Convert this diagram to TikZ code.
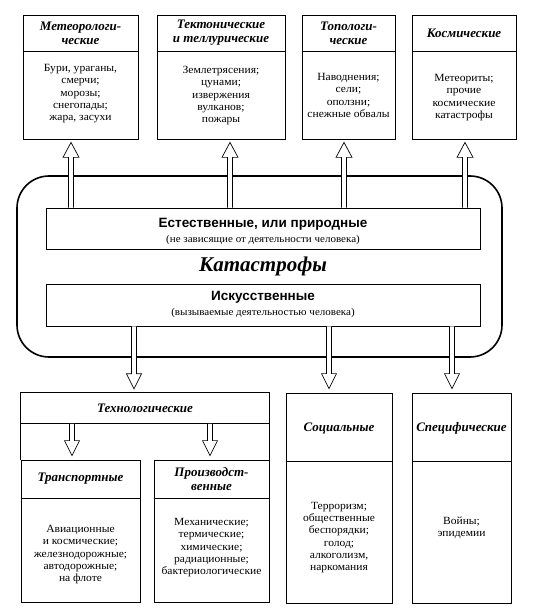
\documentclass[tikz,border=0pt]{standalone}
\usepackage{fontspec}
\setmainfont{Liberation Serif}
\setsansfont{Liberation Sans}
\newfontfamily\bodyfont[FakeStretch=1.05]{Liberation Serif}
\usetikzlibrary{calc}
\def\arrup(#1)(#2){\filldraw[fill=white, line width=0.7pt] ($(#1)+(-2.5pt,0)$) -- ($(#2)+(-2.5pt,-18pt)$) -- ($(#2)+(-8pt,-18pt)$) -- ($(#2)+(0,-3pt)$) -- ($(#2)+(8pt,-18pt)$) -- ($(#2)+(2.5pt,-18pt)$) -- ($(#1)+(2.5pt,0)$);}
\def\arrdown(#1)(#2){\filldraw[fill=white, line width=0.7pt] ($(#1)+(-2.5pt,0)$) -- ($(#2)+(-2.5pt,19pt)$) -- ($(#2)+(-7.5pt,19pt)$) -- ($(#2)+(0,4pt)$) -- ($(#2)+(7.5pt,19pt)$) -- ($(#2)+(2.5pt,19pt)$) -- ($(#1)+(2.5pt,0)$);}
\tikzset{
  catbox/.style={draw, line width=0.8pt, rectangle, inner sep=0pt},
  head/.style={font=\bfseries\itshape\fontsize{13}{14}\selectfont, align=center, inner sep=0pt},
  body/.style={font=\bodyfont\fontsize{11}{12.3}\selectfont, align=center, inner sep=0pt},
  group/.style={font=\sffamily\bfseries\fontsize{13.5}{15}\selectfont, inner sep=0pt},
  note/.style={font=\bodyfont\fontsize{10.5}{12}\selectfont, inner sep=0pt}
}
\begin{document}
\begin{tikzpicture}[x=1pt, y=-1pt]
		\useasboundingbox[fill=white] (0,0) rectangle (538,609);
		
		%%%%% CENTRE %%%%%
		\node[draw, line width=1.6pt, rounded corners=32pt, minimum width=485pt, minimum height=181pt] (cat) at (259.5,266.5) {};
		\node[catbox, minimum width=434pt, minimum height=41pt] (nat) at (263,228.5) {};
		\node[group] (natT) at (263,224.5) {Естественные, или природные};
		\node[note] (natS) at (263,240) {(не зависящие от деятельности человека)};
		\node[font=\bfseries\itshape\fontsize{21}{24}\selectfont, inner sep=0pt] (catT) at (263,266) {Катастрофы};
		\node[catbox, minimum width=434pt, minimum height=42pt] (art) at (263,305) {};
		\node[group] (artT) at (263,297.5) {Искусственные};
		\node[note] (artS) at (263,313) {(вызываемые деятельностью человека)};
		
		%%%%% TOP %%%%%
		\node[catbox, minimum width=115pt, minimum height=124pt] (meteo) at (80.5,77) {};
		\node[catbox, minimum width=128pt, minimum height=124pt] (tekt) at (221,77) {};
		\node[catbox, minimum width=93pt, minimum height=124pt] (topo) at (348.5,77) {};
		\node[catbox, minimum width=104pt, minimum height=124pt] (kosm) at (464,77) {};
		\foreach \b in {meteo,tekt,topo,kosm}
			\draw[line width=0.8pt] ($(\b.north west)+(0,-37pt)$) -- ($(\b.north east)+(0,-37pt)$);
		
		\node[head] (meteoH) at ($(meteo.north)+(0,-18.5pt)$) {Метеорологи-\\ческие};
		\node[body] (meteoB) at ($(meteo.north)+(0,-79pt)$) {Бури, ураганы,\\смерчи;\\морозы;\\снегопады;\\жара, засухи};
		\node[head] (tektH) at ($(tekt.north)+(0,-18.5pt)$) {Тектонические\\и теллурические};
		\node[body] (tektB) at ($(tekt.north)+(0,-81pt)$) {Землетрясения;\\цунами;\\извержения\\вулканов;\\пожары};
		\node[head] (topoH) at ($(topo.north)+(0,-18.5pt)$) {Топологи-\\ческие};
		\node[body] (topoB) at ($(topo.north)+(0,-81pt)$) {Наводнения;\\сели;\\оползни;\\снежные обвалы};
		\node[head] (kosmH) at ($(kosm.north)+(0,-18.5pt)$) {Космические};
		\node[body] (kosmB) at ($(kosm.north)+(0,-83pt)$) {Метеориты;\\прочие\\космические\\катастрофы};
		
		\coordinate (x1) at (71,0);
		\coordinate (x2) at (230,0);
		\coordinate (x3) at (344,0);
		\coordinate (x4) at (465,0);
		\arrup(nat.north -| x1)(meteo.south -| x1)
		\arrup(nat.north -| x2)(tekt.south -| x2)
		\arrup(nat.north -| x3)(topo.south -| x3)
		\arrup(nat.north -| x4)(kosm.south -| x4)
		
		%%%%% BOTTOM %%%%%
		\node[minimum width=248pt, minimum height=67pt, inner sep=0pt] (tech) at (145,426.5) {};
		\draw[line width=0.8pt] (tech.south west) |- (tech.north east) -- (tech.south east);
		\draw[line width=0.8pt] ($(tech.north west)+(0,-31pt)$) -- ($(tech.north east)+(0,-31pt)$);
		\node[head] (techH) at ($(tech.north)+(0,-15.5pt)$) {Технологические};
		
		\node[catbox, minimum width=119pt, minimum height=142pt] (trans) at (80.5,531) {};
		\node[catbox, minimum width=115pt, minimum height=142pt] (prod) at (211.5,531) {};
		\node[catbox, minimum width=106pt, minimum height=210pt] (soc) at (339,498) {};
		\node[catbox, minimum width=99pt, minimum height=210pt] (spec) at (461.5,498) {};
		\foreach \b in {trans,prod}
			\draw[line width=0.8pt] ($(\b.north west)+(0,-39pt)$) -- ($(\b.north east)+(0,-39pt)$);
		\foreach \b in {soc,spec}
			\draw[line width=0.8pt] ($(\b.north west)+(0,-69pt)$) -- ($(\b.north east)+(0,-69pt)$);
		
		\node[head] (transH) at ($(trans.north)+(0,-19.5pt)$) {Транспортные};
		\node[body] (transB) at ($(trans.north)+(0,-95pt)$) {Авиационные\\и космические;\\железнодорожные;\\автодорожные;\\на флоте};
		\node[head] (prodH) at ($(prod.north)+(0,-19.5pt)$) {Производст-\\венные};
		\node[body] (prodB) at ($(prod.north)+(0,-88pt)$) {Механические;\\термические;\\химические;\\радиационные;\\бактериологические};
		\node[head] (socH) at ($(soc.north)+(0,-36pt)$) {Социальные};
		\node[body] (socB) at ($(soc.north)+(0,-145pt)$) {Терроризм;\\общественные\\беспорядки;\\голод;\\алкоголизм,\\наркомания};
		\node[head] (specH) at ($(spec.north)+(0,-36pt)$) {Специфические};
		\node[body] (specB) at ($(spec.north)+(0,-135pt)$) {Войны;\\эпидемии};
		
		\coordinate (x5) at (134,0);
		\coordinate (x6) at (329,0);
		\coordinate (x7) at (452,0);
		\coordinate (x8) at (72,0);
		\coordinate (x9) at (210,0);
		\arrdown(art.south -| x5)(tech.north -| x5)
		\arrdown(art.south -| x6)(soc.north -| x6)
		\arrdown(art.south -| x7)(spec.north -| x7)
		\arrdown($(tech.north -| x8)+(0,-31pt)$)(trans.north -| x8)
		\arrdown($(tech.north -| x9)+(0,-31pt)$)(prod.north -| x9)
		
\end{tikzpicture}
\end{document}
